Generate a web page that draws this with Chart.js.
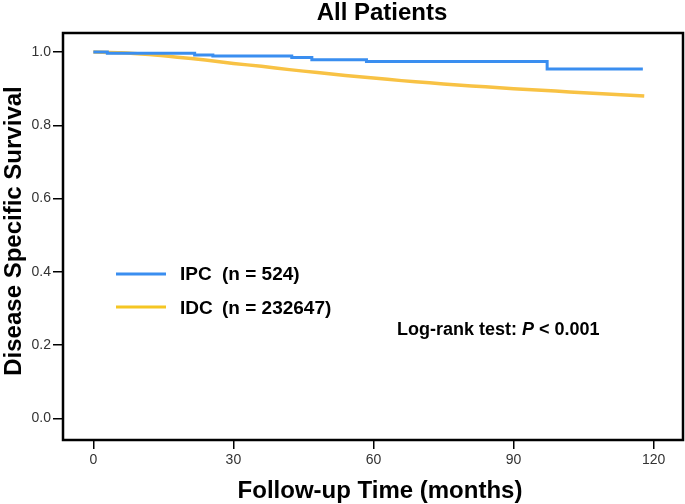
<!DOCTYPE html>
<html><head><meta charset="utf-8">
<script src="https://cdn.jsdelivr.net/npm/chart.js@4/dist/chart.umd.min.js"></script>
<style>html,body{margin:0;padding:0;background:#fff;}canvas{display:block;}</style>
</head><body>
<canvas id="c" width="685" height="504"></canvas>
<script>
// ---- data ----
const chartTitle = "All Patients";
const xTitle = "Follow-up Time (months)";
const yTitle = "Disease Specific Survival";
const xTicks = [0, 30, 60, 90, 120];
const yTicks = [0, 0.2, 0.4, 0.6, 0.8, 1.0];

const ipcLabel = "IPC";
const ipcCount = "(n = 524)";
const ipcTimes = [0, 3, 21.7, 25.6, 42.5, 46.8, 58.5, 97.2, 117.7];
const ipcSurv  = [1.0, 0.997, 0.992, 0.989, 0.985, 0.979, 0.974, 0.954, 0.954];

const idcLabel = "IDC";
const idcCount = "(n = 232647)";
const idcTimes = [0, 6, 12, 18, 24, 30, 36, 42, 48, 54, 60, 66, 72, 78, 84, 90, 96, 102, 108, 114, 118];
const idcSurv  = [1.0, 0.998, 0.993, 0.986, 0.978, 0.969, 0.961, 0.952, 0.944, 0.936, 0.929, 0.922, 0.916, 0.910, 0.905, 0.900, 0.896, 0.891, 0.887, 0.883, 0.880];

const testText = "Log-rank test: ";
const testP = "P";
const testRest = " < 0.001";

// ---- styling ----
const BLUE = '#3a8ef0';
const GOLD = '#f8c244';
const FONT = "'Liberation Sans', Arial, sans-serif";

const toPts = (xs, ys) => xs.map((x, i) => ({x: x, y: ys[i]}));

const annotate = {
  id: 'annotate',
  afterDraw(chart) {
    const ctx = chart.ctx, a = chart.chartArea;
    ctx.save();
    // plot frame
    ctx.strokeStyle = '#000';
    ctx.lineWidth = 2.5;
    ctx.strokeRect(a.left, a.top, a.right - a.left, a.bottom - a.top);
    ctx.fillStyle = '#000';
    ctx.textBaseline = 'middle';
    // title
    ctx.textAlign = 'center';
    ctx.font = "bold 24px " + FONT;
    ctx.fillText(chartTitle, 382, 13);
    // x title
    ctx.font = "bold 24px " + FONT;
    ctx.fillText(xTitle, 380, 491);
    // y title
    ctx.save();
    ctx.translate(14, 231);
    ctx.rotate(-Math.PI / 2);
    ctx.fillText(yTitle, 0, 0);
    ctx.restore();
    // legend
    ctx.lineWidth = 3;
    ctx.strokeStyle = BLUE;
    ctx.beginPath(); ctx.moveTo(116, 274); ctx.lineTo(166, 274); ctx.stroke();
    ctx.strokeStyle = '#f5c623';
    ctx.beginPath(); ctx.moveTo(116, 307); ctx.lineTo(166, 307); ctx.stroke();
    ctx.textAlign = 'left';
    ctx.font = "bold 19px " + FONT;
    ctx.fillText(ipcLabel, 180, 275);
    ctx.fillText(ipcCount, 222, 275);
    ctx.fillText(idcLabel, 180, 309);
    ctx.fillText(idcCount, 222, 309);
    // log-rank text
    let x = 397;
    const y = 330;
    ctx.font = "bold 18px " + FONT;
    ctx.fillText(testText, x, y); x += ctx.measureText(testText).width;
    ctx.font = "italic bold 18px " + FONT;
    ctx.fillText(testP, x, y); x += ctx.measureText(testP).width;
    ctx.font = "bold 18px " + FONT;
    ctx.fillText(testRest, x, y);
    ctx.restore();
  }
};

new Chart(document.getElementById('c'), {
  type: 'line',
  data: {
    datasets: [
      { label: ipcLabel, data: toPts(ipcTimes, ipcSurv), borderColor: BLUE, borderWidth: 3, stepped: true, pointRadius: 0, fill: false },
      { label: idcLabel, data: toPts(idcTimes, idcSurv), borderColor: GOLD, borderWidth: 3.5, pointRadius: 0, fill: false, tension: 0.3 }
    ]
  },
  options: {
    responsive: false,
    animation: false,
    devicePixelRatio: 1,
    layout: { padding: { top: 33, right: 2, left: 0, bottom: 0 } },
    plugins: { legend: { display: false }, tooltip: { enabled: false }, title: { display: false } },
    scales: {
      x: {
        type: 'linear', min: -6.5, max: 126.3,
        afterBuildTicks: s => { s.ticks = xTicks.map(v => ({ value: v })); },
        afterFit: s => { s.height = 64; },
        border: { display: false },
        grid: { drawOnChartArea: false, drawTicks: true, tickLength: 9, tickColor: '#000', lineWidth: 1.5 },
        ticks: { color: '#333', font: { size: 14, family: FONT }, padding: 3, maxRotation: 0 }
      },
      y: {
        type: 'linear', min: -0.059, max: 1.052,
        afterBuildTicks: s => { s.ticks = yTicks.map(v => ({ value: v })); },
        afterFit: s => { s.width = 63; },
        border: { display: false },
        grid: { drawOnChartArea: false, drawTicks: true, tickLength: 10, tickColor: '#000', lineWidth: 1.5 },
        ticks: { color: '#333', font: { size: 14, family: FONT }, padding: 2, callback: v => v.toFixed(1) }
      }
    }
  },
  plugins: [annotate]
});
</script>
</body></html>
